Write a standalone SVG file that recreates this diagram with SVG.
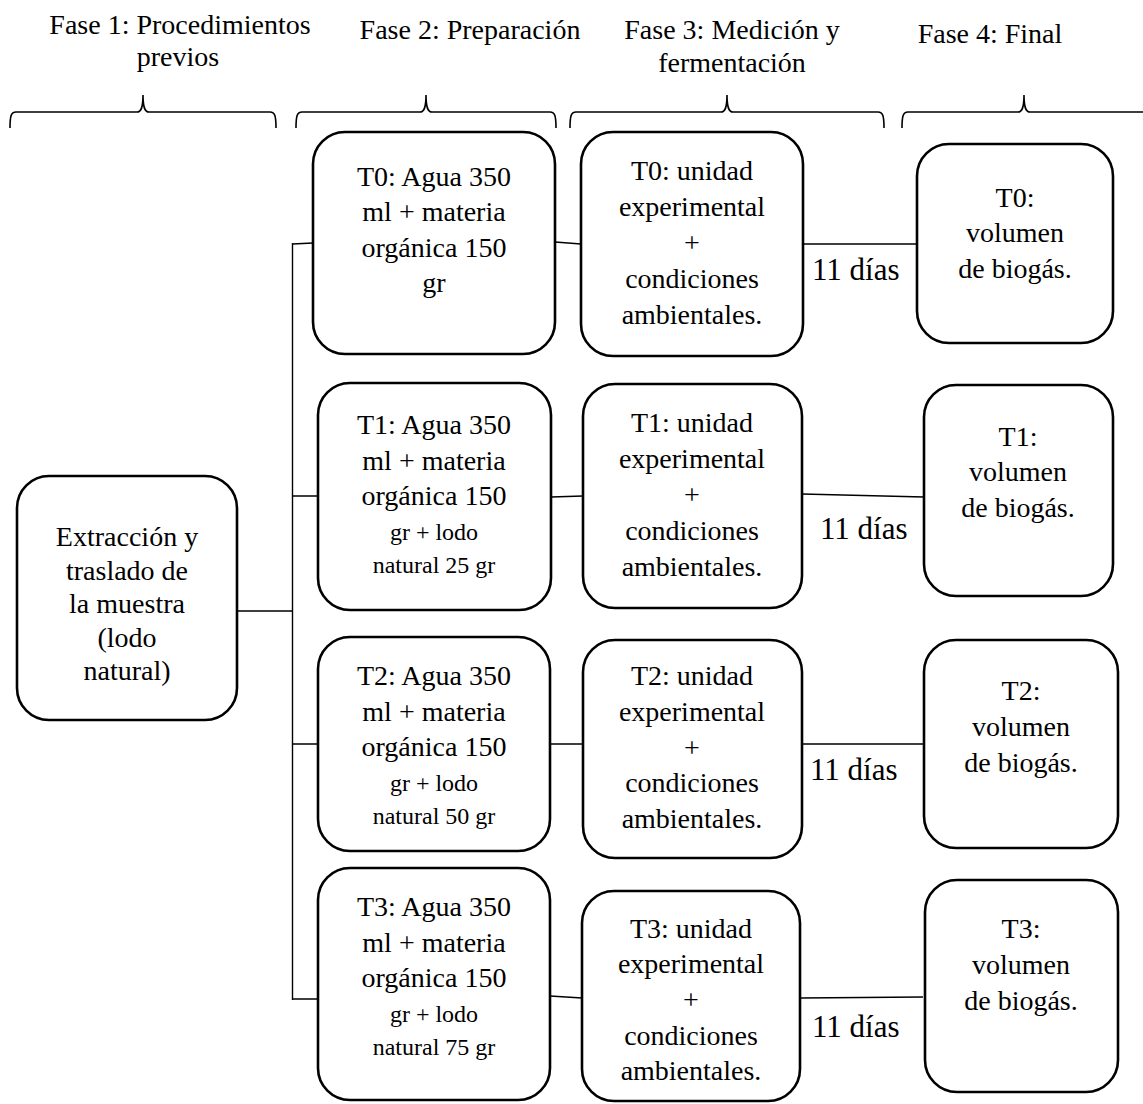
<svg xmlns="http://www.w3.org/2000/svg" width="1143" height="1104" viewBox="0 0 1143 1104">
<style>
text{font-family:"Liberation Serif","Times New Roman",serif;font-size:28px;fill:#000;text-anchor:middle}
.sm{font-size:24px}
.d{font-size:31px;text-anchor:start}
.box{fill:#fff;stroke:#000;stroke-width:2.6}
.c{fill:none;stroke:#000;stroke-width:1.4}
.br{fill:none;stroke:#000;stroke-width:1.6}
</style>
<rect width="1143" height="1104" fill="#fff"/>
<g id="headers">
<text x="180" y="34">Fase 1: Procedimientos</text>
<text x="178" y="66">previos</text>
<text x="470" y="39">Fase 2: Preparación</text>
<text x="732" y="39">Fase 3: Medición y</text>
<text x="732" y="72">fermentación</text>
<text x="990" y="43">Fase 4: Final</text>
</g>
<g id="braces">
<path class="br" d="M10,128 C10,116 11,112 16,112 L137,112 C141,112 143,108 143,95 C143,108 145,112 149,112 L270,112 C275,112 276,116 276,128"/>
<path class="br" d="M296,128 C296,116 297,112 302,112 L420,112 C424,112 426,108 426,95 C426,108 428,112 432,112 L550,112 C555,112 556,116 556,128"/>
<path class="br" d="M570,128 C570,116 571,112 576,112 L721,112 C725,112 727,108 727,95 C727,108 729,112 733,112 L878,112 C883,112 884,116 884,128"/>
<path class="br" d="M902,128 C902,116 903,112 908,112 L1018,112 C1022,112 1024,108 1024,95 C1024,108 1026,112 1030,112 L1150,112"/>
</g>
<g id="connectors">
<path class="c" d="M238,611 H292.5 M292.5,243 V1000 M292.5,244 L313,243 M292.5,496 H318 M292.5,744 H318 M292.5,999 H318"/>
<path class="c" d="M555,242 L581,244 M551,497 L583,496 M550,744 L583,744 M550,996 L582,998"/>
<path class="c" d="M803,244 L917,244 M802,494 L924,497 M802,744 L924,744 M800,998 L923,997"/>
</g>
<g id="extraccion">
<rect class="box" x="17" y="476" width="220" height="244" rx="32"/>
<text x="127" y="546">Extracción y</text>
<text x="127" y="580">traslado de</text>
<text x="127" y="613">la muestra</text>
<text x="127" y="647">(lodo</text>
<text x="127" y="680">natural)</text>
</g>
<g id="prep-t0">
<rect class="box" x="313" y="132" width="242" height="222" rx="32"/>
<text x="434" y="186">T0: Agua 350</text>
<text x="434" y="221">ml + materia</text>
<text x="434" y="257">orgánica 150</text>
<text x="434" y="292">gr</text>
</g>
<g id="prep-t1">
<rect class="box" x="318" y="383" width="233" height="227" rx="32"/>
<text x="434" y="434">T1: Agua 350</text>
<text x="434" y="470">ml + materia</text>
<text x="434" y="505">orgánica 150</text>
<text class="sm" x="434" y="540">gr + lodo</text>
<text class="sm" x="434" y="573">natural 25 gr</text>
</g>
<g id="prep-t2">
<rect class="box" x="318" y="637" width="232" height="214" rx="32"/>
<text x="434" y="685">T2: Agua 350</text>
<text x="434" y="721">ml + materia</text>
<text x="434" y="756">orgánica 150</text>
<text class="sm" x="434" y="791">gr + lodo</text>
<text class="sm" x="434" y="824">natural 50 gr</text>
</g>
<g id="prep-t3">
<rect class="box" x="318" y="868" width="232" height="232" rx="32"/>
<text x="434" y="916">T3: Agua 350</text>
<text x="434" y="952">ml + materia</text>
<text x="434" y="987">orgánica 150</text>
<text class="sm" x="434" y="1022">gr + lodo</text>
<text class="sm" x="434" y="1055">natural 75 gr</text>
</g>
<g id="med-t0">
<rect class="box" x="581" y="132" width="222" height="224" rx="32"/>
<text x="692" y="180">T0: unidad</text>
<text x="692" y="216">experimental</text>
<text x="692" y="252">+</text>
<text x="692" y="288">condiciones</text>
<text x="692" y="324">ambientales.</text>
</g>
<g id="med-t1">
<rect class="box" x="583" y="384" width="219" height="224" rx="32"/>
<text x="692" y="432">T1: unidad</text>
<text x="692" y="468">experimental</text>
<text x="692" y="504">+</text>
<text x="692" y="540">condiciones</text>
<text x="692" y="576">ambientales.</text>
</g>
<g id="med-t2">
<rect class="box" x="583" y="640" width="219" height="218" rx="32"/>
<text x="692" y="685">T2: unidad</text>
<text x="692" y="721">experimental</text>
<text x="692" y="757">+</text>
<text x="692" y="792">condiciones</text>
<text x="692" y="828">ambientales.</text>
</g>
<g id="med-t3">
<rect class="box" x="582" y="891" width="218" height="210" rx="32"/>
<text x="691" y="938">T3: unidad</text>
<text x="691" y="973">experimental</text>
<text x="691" y="1009">+</text>
<text x="691" y="1045">condiciones</text>
<text x="691" y="1080">ambientales.</text>
</g>
<g id="dias">
<text class="d" x="812" y="280">11 días</text>
<text class="d" x="820" y="539">11 días</text>
<text class="d" x="810" y="780">11 días</text>
<text class="d" x="812" y="1037">11 días</text>
</g>
<g id="final-t0">
<rect class="box" x="917" y="144" width="196" height="199" rx="32"/>
<text x="1015" y="207">T0:</text>
<text x="1015" y="242">volumen</text>
<text x="1015" y="278">de biogás.</text>
</g>
<g id="final-t1">
<rect class="box" x="924" y="385" width="189" height="211" rx="32"/>
<text x="1018" y="446">T1:</text>
<text x="1018" y="481">volumen</text>
<text x="1018" y="517">de biogás.</text>
</g>
<g id="final-t2">
<rect class="box" x="924" y="640" width="194" height="208" rx="32"/>
<text x="1021" y="700">T2:</text>
<text x="1021" y="736">volumen</text>
<text x="1021" y="772">de biogás.</text>
</g>
<g id="final-t3">
<rect class="box" x="925" y="880" width="193" height="212" rx="32"/>
<text x="1021" y="938">T3:</text>
<text x="1021" y="974">volumen</text>
<text x="1021" y="1010">de biogás.</text>
</g>
</svg>
